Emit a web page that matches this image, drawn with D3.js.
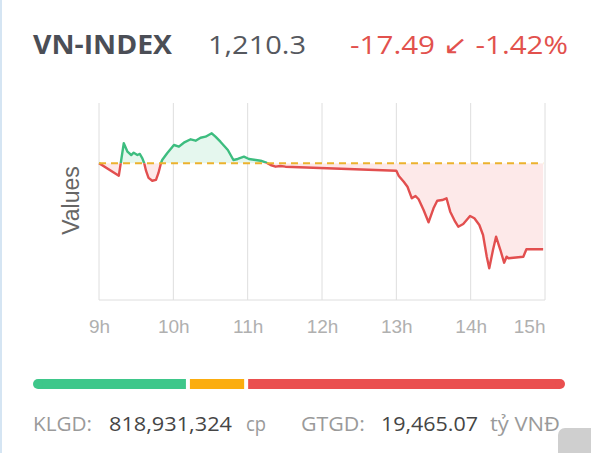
<!DOCTYPE html>
<html lang="vi">
    <head>
        <meta charset="utf-8">
        <title>VN-INDEX</title>
        <script type="text/javascript" src="https://d3js.org/d3.v7.min.js"></script>
        <style type="text/css">
            body { margin: 0; background: #fff; }
            svg { display: block; }
        </style>
    </head>
    <body>
        <div id="chart"></div>
        <script type="text/javascript">

            // intraday points (time, index value)
            var times = ["9:00", "9:16", "9:20", "9:23", "9:26", "9:28", "9:31", "9:33", "9:35", "9:36.5",
                "9:38", "9:40", "9:43", "9:46", "9:48", "9:50", "9:51", "9:55", "10:00.5", "10:04.5",
                "10:08.5", "10:14", "10:18", "10:22", "10:26", "10:31", "10:34", "10:38", "10:44", "10:48.5",
                "10:52", "10:57", "11:01", "11:06.5", "11:10.5", "11:14.5", "11:18.5", "11:22.5", "11:26.5", "11:30.5",
                "13:00", "13:02", "13:06", "13:09", "13:12.5", "13:15.5", "13:18", "13:22", "13:26", "13:30",
                "13:33", "13:37", "13:40.5", "13:43.5", "13:47.5", "13:50", "13:54", "13:59.5", "14:03", "14:07",
                "14:10", "14:13", "14:15", "14:18", "14:20.5", "14:24", "14:27", "14:29", "14:30.5", "14:42.5",
                "14:45", "14:58.5"];
            var values = [1227.79, 1225.24, 1231.82, 1230.11, 1229.44, 1229.91, 1229.44, 1229.65, 1228.77, 1227.76,
                1226.2, 1224.8, 1224.22, 1224.4, 1225.8, 1227.76, 1228.43, 1229.79, 1231.47, 1231.13,
                1231.94, 1232.63, 1232.35, 1232.95, 1233.16, 1233.85, 1233.16, 1232.14, 1230.46, 1228.43,
                1228.63, 1229.10, 1228.63, 1228.43, 1228.28, 1227.96, 1227.41, 1227.07, 1227.21, 1227.07,
                1226.25, 1225.18, 1224.02, 1223.00, 1220.65, 1221.12, 1220.45, 1218.27, 1215.78, 1218.62,
                1220.16, 1220.30, 1220.65, 1217.93, 1215.90, 1214.88, 1215.43, 1217.06, 1216.59, 1215.23,
                1213.20, 1208.79, 1206.44, 1210.15, 1212.85, 1210.15, 1207.57, 1208.79, 1208.47, 1208.79,
                1210.30, 1210.30];
            var refValue = 1227.79;   // previous close
            var yDomain = [1200, 1240];
            var hourTicks = [9, 10, 11, 12, 13, 14, 15];

            // market breadth bar: advancing / unchanged / declining
            var breadthLabels = ["up", "flat", "down"];
            var breadthCounts = [120, 44, 253];
            var breadthColors = ["#3ec78a", "#fbad0f", "#ea4f4f"];

            var W = 591, H = 453;
            var svg = d3.select("#chart").append("svg")
                .attr("width", W).attr("height", H);

            // light left border of the card
            svg.append("rect").attr("x", 0).attr("y", 0).attr("width", 2).attr("height", H)
                .attr("fill", "#d5e5f3");

            // small helper: text fitted to the width seen in the picture
            function label(x, y, size, color, weight, str, len) {
                return svg.append("text").attr("x", x).attr("y", y)
                    .attr("font-family", "Open Sans").attr("font-size", size)
                    .attr("font-weight", weight).attr("fill", color)
                    .attr("textLength", len).attr("lengthAdjust", "spacingAndGlyphs")
                    .text(str);
            }

            // header
            label(33, 54, 26, "#4b4e56", 700, "VN-INDEX", 139);
            label(208, 54, 26, "#55585e", 400, "1,210.3", 98);
            label(350, 54, 26, "#e2514d", 400, "-17.49 \u2199 -1.42%", 218);

            // plot
            var x = d3.scaleLinear().domain([9, 15]).range([99, 545]);
            var y = d3.scaleLinear().domain(yDomain).range([300, 103]);

            function toHour(t) {
                var p = t.split(":");
                return +p[0] + (+p[1]) / 60;
            }
            var data = times.map(function(t, i) { return {h: toHour(t), v: values[i]}; });

            // grid
            svg.append("g").selectAll("line").data(hourTicks).join("line")
                .attr("x1", function(d) { return x(d); }).attr("x2", function(d) { return x(d); })
                .attr("y1", y(yDomain[1])).attr("y2", y(yDomain[0]))
                .attr("stroke", "#dedede").attr("stroke-width", 1);
            svg.append("line")
                .attr("x1", x(9)).attr("x2", x(15))
                .attr("y1", y(yDomain[0])).attr("y2", y(yDomain[0]))
                .attr("stroke", "#dedede");

            // x axis labels
            var xAxis = svg.append("g")
                .attr("transform", "translate(0," + (y(yDomain[0]) + 16) + ")")
                .call(d3.axisBottom(x).tickValues(hourTicks).tickSize(0)
                    .tickFormat(function(d) { return d + "h"; }));
            xAxis.select(".domain").remove();
            xAxis.selectAll("text")
                .attr("font-family", "Liberation Sans, Arial").attr("font-size", 19)
                .attr("fill", "#b0b0b0")
                .attr("text-anchor", function(d) { return d === 15 ? "end" : "middle"; });

            // y axis title
            svg.append("text")
                .attr("transform", "translate(79," + y(1220.2) + ") rotate(-90)")
                .attr("text-anchor", "middle")
                .attr("font-family", "Liberation Sans, Arial").attr("font-size", 23)
                .attr("fill", "#666").text("Values");

            // clip regions above / below the previous close
            var defs = svg.append("defs");
            defs.append("clipPath").attr("id", "above").append("rect")
                .attr("x", 0).attr("y", 0).attr("width", W).attr("height", y(refValue));
            defs.append("clipPath").attr("id", "below").append("rect")
                .attr("x", 0).attr("y", y(refValue)).attr("width", W).attr("height", H);

            var area = d3.area()
                .x(function(d) { return x(d.h); })
                .y0(y(refValue))
                .y1(function(d) { return y(d.v); });
            var line = d3.line()
                .x(function(d) { return x(d.h); })
                .y(function(d) { return y(d.v); });

            [["above", "#e5f7ee", "#3dbd7f"], ["below", "#fde9e9", "#e24f4f"]].forEach(function(s) {
                var g = svg.append("g").attr("clip-path", "url(#" + s[0] + ")");
                g.append("path").datum(data).attr("d", area).attr("fill", s[1]);
                g.append("path").datum(data).attr("d", line)
                    .attr("fill", "none").attr("stroke", s[2]).attr("stroke-width", 2.4)
                    .attr("stroke-linejoin", "round");
            });

            // previous close reference
            svg.append("line")
                .attr("x1", x(9)).attr("x2", x(data[data.length - 1].h))
                .attr("y1", y(refValue)).attr("y2", y(refValue))
                .attr("stroke", "#ecb22e").attr("stroke-width", 2)
                .attr("stroke-dasharray", "7,5");

            // breadth bar
            var gap = 4, r = 5;
            var bx = d3.scaleLinear().domain([0, d3.sum(breadthCounts)])
                .range([33 + r, 565 - r - gap * (breadthCounts.length - 1)]);
            var cum = 0;
            var segs = breadthCounts.map(function(c, i) {
                var s = {x0: bx(cum) + i * gap, x1: bx(cum + c) + i * gap, c: breadthColors[i], k: breadthLabels[i]};
                cum += c;
                return s;
            });
            var bar = svg.append("g");
            bar.selectAll("rect.seg").data(segs).join("rect").attr("class", "seg")
                .attr("x", function(d) { return d.x0; }).attr("y", 379)
                .attr("width", function(d) { return d.x1 - d.x0; }).attr("height", 2 * r)
                .attr("fill", function(d) { return d.c; });
            // rounded outer ends
            bar.append("circle").attr("cx", segs[0].x0).attr("cy", 379 + r).attr("r", r).attr("fill", segs[0].c);
            bar.append("circle").attr("cx", segs[2].x1).attr("cy", 379 + r).attr("r", r).attr("fill", segs[2].c);

            // footer
            label(33, 431, 20, "#9a9a9a", 400, "KLGD:", 59);
            label(109, 431, 20, "#454545", 400, "818,931,324", 123);
            label(246, 431, 20, "#9a9a9a", 400, "cp", 20);
            label(301, 431, 20, "#9a9a9a", 400, "GTGD:", 64);
            label(381, 431, 20, "#454545", 400, "19,465.07", 97);
            label(490, 431, 20, "#9a9a9a", 400, "t\u1ef7 VN\u0110", 70);

            // scroll button in the corner
            svg.append("rect").attr("x", 558).attr("y", 428).attr("width", 50).attr("height", 40)
                .attr("rx", 7).attr("fill", "#cfcfcf");

        </script>
    </body>
</html>
